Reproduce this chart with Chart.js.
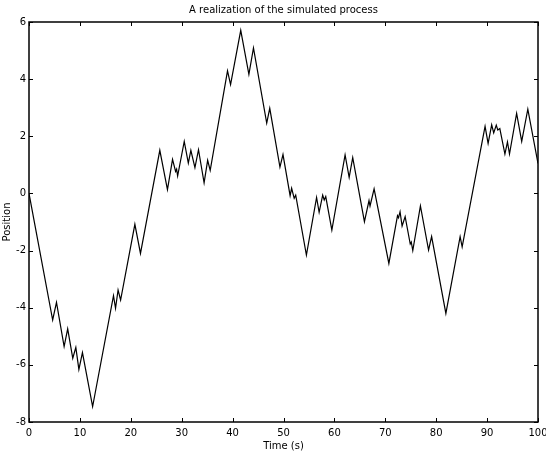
<!DOCTYPE html>
<html>
<head>
<meta charset="utf-8">
<script src="https://cdn.jsdelivr.net/npm/chart.js@4.4.0/dist/chart.umd.min.js"></script>
<style>
  html, body { margin: 0; padding: 0; background: #fff; }
  #wrap { width: 546px; height: 460px; }
</style>
</head>
<body>
<div id="wrap"><canvas id="grafico"></canvas></div>
<script>
// Turning points of the walk
var tiempos = [0, 4.65, 5.4, 6.9, 7.6, 8.6, 9.2, 9.8, 10.5, 12.5, 16.6, 17.0, 17.5, 18.0,
  20.8, 21.9, 25.7, 27.2, 28.2, 28.8, 29.0, 29.2, 30.5, 31.3, 31.8, 32.6, 33.3, 34.4, 35.1,
  35.6, 39.0, 39.6, 41.6, 43.2, 44.1, 46.7, 47.3, 49.3, 49.9, 51.3, 51.6, 52.1, 52.4, 54.5,
  56.5, 57.0, 57.7, 58.0, 58.3, 59.5, 62.1, 62.9, 63.6, 65.9, 66.8, 67.0, 67.8, 70.7, 72.4,
  72.6, 72.9, 73.3, 73.9, 74.9, 75.1, 75.4, 76.9, 78.5, 79.1, 81.9, 84.7, 85.1, 89.6, 90.2,
  90.9, 91.3, 91.8, 92.1, 92.5, 93.5, 94.0, 94.4, 95.8, 96.8, 98.0, 100];
var posiciones = [0, -4.43, -3.81, -5.36, -4.74, -5.77, -5.39, -6.16, -5.57, -7.46, -3.58, -4.02, -3.38, -3.73,
  -1.08, -2.10, 1.51, 0.13, 1.19, 0.77, 0.85, 0.61, 1.82, 1.06, 1.51, 0.90, 1.53, 0.37, 1.16,
  0.81, 4.29, 3.81, 5.71, 4.17, 5.09, 2.46, 2.98, 0.92, 1.36, -0.08, 0.18, -0.17, -0.06, -2.16,
  -0.14, -0.66, -0.06, -0.23, -0.11, -1.28, 1.35, 0.56, 1.25, -0.99, -0.25, -0.44, 0.16, -2.45, -0.78,
  -0.85, -0.64, -1.14, -0.81, -1.77, -1.70, -2.00, -0.44, -1.98, -1.51, -4.20, -1.51, -1.87, 2.35, 1.75,
  2.40, 2.12, 2.39, 2.22, 2.27, 1.38, 1.80, 1.38, 2.80, 1.82, 2.95, 1.05];

var ticksX = [0, 10, 20, 30, 40, 50, 60, 70, 80, 90, 100];
var ticksY = [-8, -6, -4, -2, 0, 2, 4, 6];

var puntos = tiempos.map(function (t, i) { return { x: t, y: posiciones[i] }; });

Chart.defaults.font.family = '"DejaVu Sans", sans-serif';
Chart.defaults.font.size = 10;
Chart.defaults.color = '#000';

// Marco y marcas hacia dentro, como en matplotlib
var marco = {
  id: 'marco',
  afterDatasetsDraw: function (chart) {
    var ctx = chart.ctx, a = chart.chartArea;
    var sx = chart.scales.x, sy = chart.scales.y;
    var largo = 4;
    ctx.save();
    ctx.strokeStyle = '#000';
    ctx.lineWidth = 1;
    ctx.beginPath();
    sx.ticks.forEach(function (t) {
      var px = Math.round(sx.getPixelForValue(t.value)) + 0.5;
      ctx.moveTo(px, a.bottom); ctx.lineTo(px, a.bottom - largo);
      ctx.moveTo(px, a.top); ctx.lineTo(px, a.top + largo);
    });
    sy.ticks.forEach(function (t) {
      var py = Math.round(sy.getPixelForValue(t.value)) + 0.5;
      ctx.moveTo(a.left, py); ctx.lineTo(a.left + largo, py);
      ctx.moveTo(a.right, py); ctx.lineTo(a.right - largo, py);
    });
    ctx.stroke();
    ctx.lineWidth = 1.5;
    ctx.strokeRect(a.left, a.top, a.right - a.left, a.bottom - a.top);
    ctx.restore();
  }
};

var ctx = document.getElementById('grafico').getContext('2d');
var grafico = new Chart(ctx, {
  type: 'line',
  data: {
    datasets: [{
      data: puntos,
      borderColor: '#000',
      borderWidth: 1.2,
      pointRadius: 0,
      tension: 0,
      fill: false
    }]
  },
  options: {
    responsive: true,
    maintainAspectRatio: false,
    animation: false,
    layout: { padding: { left: 0, right: 8, top: 0, bottom: 0 } },
    plugins: {
      legend: { display: false },
      tooltip: { enabled: false },
      title: { display: false }
    },
    scales: {
      x: {
        type: 'linear',
        min: 0,
        max: 100,
        afterBuildTicks: function (s) { s.ticks = ticksX.map(function (v) { return { value: v }; }); },
        afterFit: function (s) { s.height = 38; s.paddingLeft = 0; s.paddingRight = 0; },
        grid: { display: false, drawTicks: false },
        border: { display: false },
        ticks: { padding: 5, maxRotation: 0, color: '#000' },
        title: { display: true, text: 'Time (s)', color: '#000', padding: { top: 0, bottom: 8 } }
      },
      // eje superior solo para el título, centrado sobre el área del gráfico
      arriba: {
        type: 'linear',
        position: 'top',
        axis: 'x',
        min: 0,
        max: 100,
        afterFit: function (s) { s.height = 22; s.paddingLeft = 0; s.paddingRight = 0; },
        grid: { display: false, drawTicks: false },
        border: { display: false },
        ticks: { display: false },
        title: { display: true, text: 'A realization of the simulated process', color: '#000', padding: { top: 4, bottom: 0 } }
      },
      y: {
        type: 'linear',
        min: -8,
        max: 6,
        afterBuildTicks: function (s) { s.ticks = ticksY.map(function (v) { return { value: v }; }); },
        afterFit: function (s) { s.width = 29; s.paddingTop = 0; s.paddingBottom = 0; },
        grid: { display: false, drawTicks: false },
        border: { display: false },
        ticks: { padding: 3, color: '#000' },
        title: { display: true, text: 'Position', color: '#000', padding: { top: 1, bottom: 0 } }
      }
    }
  },
  plugins: [marco]
});
</script>
</body>
</html>
